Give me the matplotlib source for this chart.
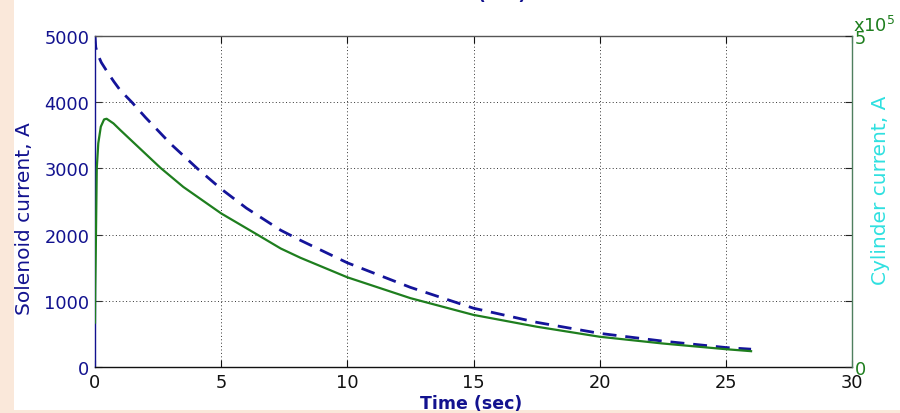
import matplotlib
matplotlib.use("Agg")
import matplotlib.pyplot as plt
from matplotlib.patches import Rectangle

plt.rcParams['font.family'] = ['DejaVu Sans']

# Solenoid current (A) vs time (s)
t_sol = [0, 0.03, 0.1, 0.25, 0.5, 0.75, 1.0, 1.46, 2.0, 3.0, 4.05, 5.0, 6.0,
         7.36, 8.14, 10, 12.5, 15, 17.5, 20, 22.5, 25, 26]
i_sol = [5000, 4830, 4730, 4600, 4450, 4310, 4180, 4000, 3770, 3370, 3000,
         2690, 2400, 2066, 1914, 1574, 1203, 888, 675, 508, 391, 294, 269]

# Cylinder current (A) vs time (s)
t_cyl = [0, 0.01, 0.03, 0.07, 0.13, 0.23, 0.36, 0.46, 0.73, 1.0, 1.39, 2.06,
         2.59, 3.5, 5.0, 6.43, 7.36, 8.14, 10, 12.5, 15, 17.5, 20, 22.5, 25, 26]
i_cyl = [0.67e5, 1.2e5, 1.74e5, 3.0e5, 3.38e5, 3.63e5, 3.74e5, 3.75e5, 3.68e5,
         3.58e5, 3.44e5, 3.20e5, 3.01e5, 2.72e5, 2.32e5, 2.0e5, 1.79e5, 1.65e5,
         1.355e5, 1.04e5, 0.787e5, 0.609e5, 0.457e5, 0.355e5, 0.269e5, 0.239e5]

x_ticks = [0, 5, 10, 15, 20, 25, 30]
y_left_ticks = [0, 1000, 2000, 3000, 4000, 5000]
y_right_ticks = [0, 1e5, 2e5, 3e5, 4e5, 5e5]
y_right_labels = ['0', '', '', '', '', '5']

BLUE = '#12128f'
LBLUE = '#14149a'
GREEN = '#1e7e1e'
CYAN = '#2fe0e0'
FS = 12.8
LFS = 14.5

fig = plt.figure(figsize=(9, 4.14), dpi=100)
fig.patch.set_facecolor('white')
# peach border strips
fig.patches.append(Rectangle((0, 0), 14 / 900, 1, transform=fig.transFigure,
                             facecolor='#fae8da', edgecolor='none', zorder=0))
fig.patches.append(Rectangle((0, 0), 1, 3 / 414, transform=fig.transFigure,
                             facecolor='#fae8da', edgecolor='none', zorder=0))

ax = fig.add_axes([95 / 900, 46 / 414, 757 / 900, 331 / 414])
ax2 = ax.twinx()

ax.plot(t_sol, i_sol, color=LBLUE, lw=2.0, ls=(0, (5, 3.2)))
ax2.plot(t_cyl, i_cyl, color=GREEN, lw=1.6)

ax.set_xlim(0, 30)
ax.set_ylim(0, 5000)
ax2.set_ylim(0, 5e5)
ax.set_xticks(x_ticks)
ax.set_yticks(y_left_ticks)
ax2.set_yticks(y_right_ticks)
ax2.set_yticklabels(y_right_labels)

ax.grid(True, color='#333333', ls=(0, (1, 2.5)), lw=0.7)

ax.tick_params(axis='x', direction='in', length=5, top=True, labelsize=FS,
               colors='#111111', pad=4)
ax.tick_params(axis='y', direction='in', length=5, labelsize=FS,
               labelcolor=BLUE, color='#333333', pad=4)
ax2.tick_params(axis='y', direction='in', length=5, labelsize=FS,
                labelcolor=GREEN, color='#222222', pad=2)

ax.spines['left'].set_color(BLUE)
ax.spines['bottom'].set_color('#111111')
ax.spines['top'].set_color('#555555')
ax.spines['right'].set_visible(False)
ax2.spines['right'].set_color('#4f7f5f')
ax2.spines['left'].set_visible(False)
ax2.spines['top'].set_visible(False)
ax2.spines['bottom'].set_visible(False)
for s in list(ax.spines.values()) + list(ax2.spines.values()):
    s.set_linewidth(1.0)

fig.text(471 / 900, 1 - 404 / 414, 'Time (sec)', color=BLUE, fontsize=12.5,
         fontweight='bold', ha='center', va='center')
fig.text(25 / 900, 1 - 219 / 414, 'Solenoid current, A', color=BLUE,
         fontsize=LFS, rotation=90, ha='center', va='center')
fig.text(881 / 900, 1 - 190 / 414, 'Cylinder current, A', color=CYAN,
         fontsize=LFS, rotation=90, ha='center', va='center')
fig.text(853 / 900, 1 - 32 / 414, r'x$\mathregular{10^{5}}$', color=GREEN,
         fontsize=FS, ha='left', va='baseline')

# clipped remnant at top edge
fig.text(475 / 900, 414.5 / 414, 'Time (sec)', color=BLUE, fontsize=12.5,
         fontweight='bold', ha='center', va='baseline')

fig.savefig('out.png', dpi=100, facecolor=fig.get_facecolor())
